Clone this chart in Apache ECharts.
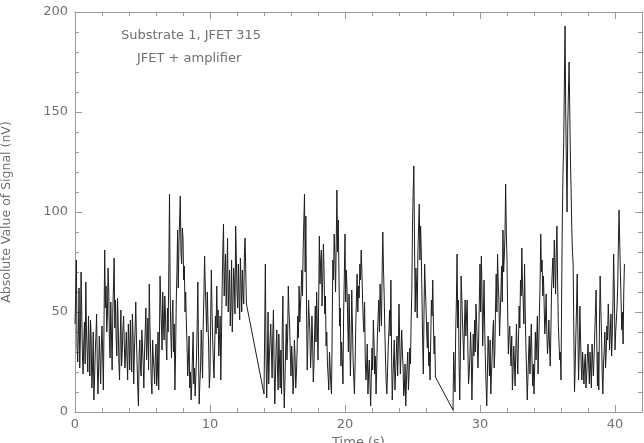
<!DOCTYPE html>
<html>
<head>
<meta charset="utf-8">
<script src="https://cdn.jsdelivr.net/npm/echarts@6/dist/echarts.min.js"></script>
<style>
html,body{margin:0;padding:0;background:#fff;}
#chart{width:644px;height:443px;}
</style>
</head>
<body>
<div id="chart"></div>
<script>
// Signal samples (nV), three recorded stretches, evenly spaced in time
const seg1Start = 0.0, seg1End = 12.7;
const seg1Values = [44,58,76,33,25,40,62,22,38,70,50,28,19,35,45,24,65,41,30,20,48,33,18,46,36,12,22,40,6,17,30,38,49,24,9,21,38,27,14,33,43,29,11,44,81,52,63,40,48,72,61,35,27,55,39,21,50,63,77,42,56,36,28,57,44,25,16,37,51,23,30,42,48,35,22,30,40,27,16,44,35,21,46,30,20,49,38,14,30,41,55,37,24,12,3,29,36,22,18,41,33,24,12,30,40,52,26,35,47,21,64,44,30,15,9,36,27,22,14,28,34,13,19,40,11,35,68,55,43,31,60,45,36,58,49,34,26,52,40,72,109,60,39,27,48,56,30,44,11,29,55,70,91,62,84,96,108,80,74,92,87,66,73,50,60,44,33,18,26,38,12,20,6,14,28,40,14,22,8,18,27,44,65,30,4,15,22,41,31,17,44,59,78,63,52,40,60,45,33,12,19,46,71,50,36,24,17,34,48,39,63,42,51,28,36,48,16,38,62,80,94,58,70,79,53,68,87,50,62,71,43,55,76,40,53,72,66,49,93,78,60,52,74,58,46,77,65,50,71,59,54,80,87,70,54];
const seg2Start = 14.0, seg2End = 26.7;
const seg2Values = [9,40,74,30,7,25,50,14,28,36,44,30,17,38,51,22,4,18,33,41,20,11,39,25,12,31,9,40,58,20,2,16,30,44,26,38,63,50,43,29,18,33,26,9,16,36,28,12,19,30,48,37,63,45,53,60,71,58,81,95,109,70,98,52,21,34,56,47,40,22,31,48,36,15,23,40,53,35,60,44,26,55,88,64,76,81,53,66,84,70,49,58,33,40,24,18,11,30,22,14,9,42,76,66,89,78,60,84,111,80,96,70,43,52,23,35,26,14,50,68,89,55,71,62,46,30,59,40,18,34,61,44,26,17,9,25,44,58,69,50,63,57,74,66,81,70,57,46,40,55,27,16,23,34,9,20,26,14,3,18,32,21,46,35,19,28,9,22,38,47,56,40,64,52,43,70,90,72,59,41,26,15,9,20,32,40,51,38,66,30,6,17,26,36,11,20,29,38,18,33,54,36,19,28,41,30,23,8,12,24,3,15,23,30,11,20,32,24,46,60,93,110,123,85,50,72,63,47,80,92,104,76,93,80,59,36,19,48,74,62,53,40,32,45,23,30,16,36,56,48,66,44,29,38,17.5];
const seg3Start = 28.0, seg3End = 40.7;
const seg3Values = [1,30,19,10,40,55,79,42,56,24,6,30,68,58,46,35,26,44,56,38,48,56,32,14,19,27,40,30,6,22,39,28,46,30,54,45,33,22,36,55,74,50,78,60,33,48,66,41,26,14,3,20,38,30,18,36,9,19,28,40,46,22,30,52,69,50,79,65,56,38,49,60,73,55,91,70,78,88,114,90,76,50,29,38,43,32,23,38,11,20,33,25,13,30,44,28,19,36,53,42,66,58,82,63,56,44,74,50,33,20,6,17,29,38,19,33,44,26,13,24,9,22,40,26,36,48,19,33,49,64,89,70,76,58,68,54,39,46,59,40,29,36,46,34,23,40,61,70,77,62,86,74,59,80,93,65,44,35,26,30,16,60,98,120,134,165,193,150,123,100,143,160,175,150,126,110,91,80,74,40,10,22,38,52,69,40,16,30,53,36,23,16,30,22,14,25,29,12,18,27,34,24,14,30,21,12,34,26,18,28,39,50,61,35,13,30,11,44,68,52,39,20,9,24,31,40,22,30,43,36,54,44,31,40,49,28,39,55,79,60,31,40,46,52,63,84,101,85,69,56,41,50,34,60,74];

const xTicks = [0, 10, 20, 30, 40];
const yTicks = [0, 50, 100, 150, 200];
const xLabel = 'Time (s)';
const yLabel = 'Absolute Value of Signal (nV)';
const note1 = 'Substrate 1, JFET 315';
const note2 = 'JFET + amplifier';

function toPairs(start, end, vals) {
  const step = (end - start) / (vals.length - 1);
  return vals.map((v, i) => [start + i * step, v]);
}
const data = toPairs(seg1Start, seg1End, seg1Values)
  .concat(toPairs(seg2Start, seg2End, seg2Values), toPairs(seg3Start, seg3End, seg3Values));

const axisGray = '#9a9a9a';
const textGray = '#707070';
const font = 'DejaVu Sans';

const chart = echarts.init(document.getElementById('chart'), null, {renderer: 'canvas'});
const baseX = {
  type: 'value', min: 0, max: 42, interval: 10,
  axisLine: {show: true, onZero: false, lineStyle: {color: axisGray, width: 1}},
  axisTick: {show: true, inside: true, length: 7, lineStyle: {color: axisGray}},
  minorTick: {show: true, splitNumber: 5, length: 4, lineStyle: {color: axisGray}},
  splitLine: {show: false}
};
const baseY = {
  type: 'value', min: 0, max: 200, interval: 50,
  axisLine: {show: true, onZero: false, lineStyle: {color: axisGray, width: 1}},
  axisTick: {show: true, inside: true, length: 7, lineStyle: {color: axisGray}},
  minorTick: {show: true, splitNumber: 5, length: 4, lineStyle: {color: axisGray}},
  splitLine: {show: false}
};
chart.setOption({
  animation: false,
  backgroundColor: '#ffffff',
  grid: {left: 75, right: 2, top: 12, bottom: 31, containLabel: false, outerBoundsMode: 'none'},
  xAxis: [
    Object.assign({}, baseX, {
      position: 'bottom',
      name: xLabel, nameLocation: 'middle', nameGap: 18,
      nameTextStyle: {color: textGray, fontSize: 13, fontFamily: font},
      axisLabel: {color: textGray, fontSize: 13, fontFamily: font, margin: 6, showMaxLabel: false,
        formatter: v => xTicks.includes(v) ? String(v) : ''}
    }),
    Object.assign({}, baseX, {position: 'top', axisLabel: {show: false}})
  ],
  yAxis: [
    Object.assign({}, baseY, {
      position: 'left',
      name: yLabel, nameLocation: 'middle', nameGap: 62,
      nameTextStyle: {color: textGray, fontSize: 12.5, fontFamily: font},
      axisLabel: {color: textGray, fontSize: 13, fontFamily: font, margin: 7,
        formatter: v => yTicks.includes(v) ? String(v) : ''}
    }),
    Object.assign({}, baseY, {position: 'right', axisLabel: {show: false}})
  ],
  graphic: [
    {type: 'text', left: 121, top: 29, style: {text: note1, fill: textGray, fontSize: 13, fontFamily: font}},
    {type: 'text', left: 137, top: 52, style: {text: note2, fill: textGray, fontSize: 13, fontFamily: font}}
  ],
  series: [{
    type: 'line', data: data, xAxisIndex: 0, yAxisIndex: 0,
    showSymbol: false, symbol: 'none',
    lineStyle: {color: '#1e1e1e', width: 1},
    silent: true
  }]
});
</script>
</body>
</html>
